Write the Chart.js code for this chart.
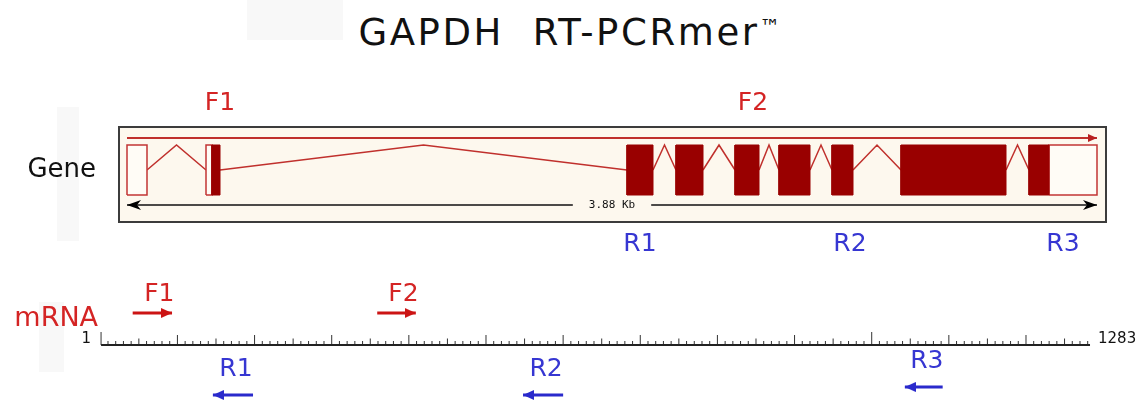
<!DOCTYPE html>
<html lang="en">
<head>
<meta charset="UTF-8">
<title>GAPDH RT-PCRmer</title>
<script src="https://cdn.jsdelivr.net/npm/chart.js"></script>
<style>
  body { margin: 0; background: #fff; font-family: "DejaVu Sans", Verdana, sans-serif; }
  #page { position: relative; width: 1139px; height: 402px; overflow: hidden; }
  .patch { position: absolute; background: #f8f8f8; }
  #title { position: absolute; left: 0; top: 11px; width: 1139px; text-align: center;
           font-size: 37px; letter-spacing: 2.6px; color: #111; white-space: pre; }
  #title span { font-size: 21px; letter-spacing: 0; position: relative; top: -11px; }
  #geneBox { position: absolute; left: 0; top: 0; width: 1139px; height: 258px; }
  #mrnaBox { position: absolute; left: 0; top: 258px; width: 1139px; height: 144px; }
</style>
</head>
<body>
<div id="page">
  <div class="patch" style="left:247px;top:0;width:96px;height:40px"></div>
  <div class="patch" style="left:57px;top:107px;width:22px;height:134px"></div>
  <div class="patch" style="left:39px;top:302px;width:25px;height:70px"></div>
  <div id="title">GAPDH  RT-PCRmer<span>™</span></div>
  <div id="geneBox"><canvas id="gene"></canvas></div>
  <div id="mrnaBox"><canvas id="mrna"></canvas></div>
</div>
<script>
// ---- gene (bp, 0 = transcription start) ----
const GENE_LEN = 3880;
const exonStart = [0, 316, 2000, 2196, 2432, 2608, 2820, 3096, 3608];
const exonEnd   = [80, 372, 2104, 2304, 2528, 2732, 2904, 3516, 3880];
const cdsStart = 340;
const cdsEnd = 3688;
const geneLabels = ['F1', 'F2', 'R1', 'R2', 'R3'];
const geneLabelPos = [372, 2504, 2052, 2892, 3744];
const geneSizeLabel = '3.88 Kb';

// ---- mRNA (nt) ----
const rulerEnds = [1, 1283];
const primerNames = ['F1', 'F2', 'R1', 'R2', 'R3'];
const primerStart = [42, 359, 146, 548, 1043];
const primerEnd   = [93, 409, 198, 600, 1092];

// layout (not data)
const RED = '#d42424', BLUE = '#3636d2', EXON = '#990000', LINE_RED = '#c0302c', CREAM = '#fdf8ee';
const geneRows = { bottom: 0, top: 1, intron: 0.5, strand: 1.14, scale: -0.2, fLabel: 1.83, rLabel: -0.98,
                   frameTop: 1.36, frameBottom: -0.54, frameLeft: -32, frameRight: 3916 };
const mrnaRows = { fArrow: 3.2, fLabel: 5.1, rArrow: -5.0, rLabel: -2.4, name: 2.6, ends: 0.55 };
const rowShift = { R3: 0.8 };

function arrowHead(color, len, half, notch) {
  // tip sits at the centre of the image so the data point is the tip
  const c = document.createElement('canvas');
  c.width = len * 2; c.height = half * 2 + 2;
  const g = c.getContext('2d');
  const cy = c.height / 2;
  g.fillStyle = color;
  g.beginPath();
  g.moveTo(len, cy);
  g.lineTo(0, cy - half);
  g.lineTo(notch, cy);
  g.lineTo(0, cy + half);
  g.closePath();
  g.fill();
  return c;
}

function rect(s, e, y0, y1) {
  return [{x: s, y: y0}, {x: e, y: y0}, {x: e, y: y1}, {x: s, y: y1}, {x: s, y: y0}];
}

function labelPlugin(items) {
  return {
    id: 'labels',
    afterDatasetsDraw(chart) {
      const ctx = chart.ctx, xs = chart.scales.x, ys = chart.scales.y;
      items.forEach(it => {
        const x = xs.getPixelForValue(it.x) + (it.dx || 0);
        const y = ys.getPixelForValue(it.y);
        ctx.save();
        ctx.font = it.font;
        ctx.textAlign = it.align || 'center';
        ctx.textBaseline = 'middle';
        if (it.bg) {
          const w = ctx.measureText(it.text).width + 2 * it.pad;
          ctx.fillStyle = it.bg;
          ctx.fillRect(x - w / 2, y - 6, w, 12);
        }
        ctx.fillStyle = it.color;
        ctx.fillText(it.text, x, y);
        ctx.restore();
      });
    }
  };
}

const framePlugin = {
  id: 'frame',
  beforeDatasetsDraw(chart) {
    const ctx = chart.ctx, xs = chart.scales.x, ys = chart.scales.y;
    const l = xs.getPixelForValue(geneRows.frameLeft), r = xs.getPixelForValue(geneRows.frameRight);
    const t = ys.getPixelForValue(geneRows.frameTop), b = ys.getPixelForValue(geneRows.frameBottom);
    ctx.save();
    ctx.fillStyle = CREAM;
    ctx.fillRect(l, t, r - l, b - t);
    ctx.strokeStyle = '#3c3c3c';
    ctx.lineWidth = 2;
    ctx.strokeRect(l, t, r - l, b - t);
    ctx.restore();
  }
};

// ---------- gene chart ----------
const cdsParts = [], utrParts = [];
exonStart.forEach((s, i) => {
  const e = exonEnd[i];
  const cs = Math.max(s, cdsStart), ce = Math.min(e, cdsEnd);
  if (ce > cs) cdsParts.push([cs, ce]);
  if (s < cs || ce <= cs) utrParts.push([s, ce > cs ? cs : e]);
  if (ce > cs && e > ce) utrParts.push([ce, e]);
});

const intronPts = [];
for (let i = 0; i < exonStart.length - 1; i++) {
  const a = exonEnd[i], b = exonStart[i + 1];
  intronPts.push({x: a, y: geneRows.intron}, {x: (a + b) / 2, y: geneRows.top}, {x: b, y: geneRows.intron}, {x: b, y: null});
}

const geneSets = [];
cdsParts.forEach(p => geneSets.push({
  data: rect(p[0], p[1], geneRows.bottom, geneRows.top),
  borderColor: EXON, backgroundColor: EXON, borderWidth: 1, fill: 'shape'
}));
utrParts.forEach(p => geneSets.push({
  data: rect(p[0], p[1], geneRows.bottom, geneRows.top),
  borderColor: '#c23434', backgroundColor: '#fffcf6', borderWidth: 1.5, fill: 'shape'
}));
geneSets.push({ data: intronPts, borderColor: LINE_RED, borderWidth: 1.5, spanGaps: false });
geneSets.push({
  data: [{x: 0, y: geneRows.strand}, {x: GENE_LEN, y: geneRows.strand}],
  borderColor: LINE_RED, borderWidth: 2,
  pointStyle: ['circle', arrowHead('#b82020', 9, 4, 0)], pointRadius: [0, 5], pointRotation: [0, 0]
});
const scaleHead = arrowHead('#000', 14, 5, 4);
geneSets.push({
  data: [{x: 0, y: geneRows.scale}, {x: GENE_LEN, y: geneRows.scale}],
  borderColor: '#111', borderWidth: 1.5,
  pointStyle: [scaleHead, scaleHead], pointRadius: [5, 5], pointRotation: [180, 0]
});

const geneText = geneLabels.map((t, i) => ({
  text: t, x: geneLabelPos[i], y: t[0] === 'F' ? geneRows.fLabel : geneRows.rLabel,
  color: t[0] === 'F' ? RED : BLUE, font: '25px "DejaVu Sans"'
}));
geneText.push({ text: 'Gene', x: geneRows.frameLeft, dx: -23, y: geneRows.intron, align: 'right', color: '#111', font: '26px "DejaVu Sans"' });
geneText.push({ text: geneSizeLabel, x: GENE_LEN / 2, y: geneRows.scale, color: '#111', font: '11px "DejaVu Sans Mono"', bg: CREAM, pad: 16 });

new Chart(document.getElementById('gene'), {
  type: 'line',
  data: { datasets: geneSets },
  options: {
    responsive: true, maintainAspectRatio: false, animation: false, events: [],
    layout: { padding: 0, autoPadding: false },
    elements: { point: { radius: 0, hoverRadius: 0 }, line: { tension: 0 } },
    scales: {
      x: { type: 'linear', min: -508, max: 4048, display: false },
      y: { type: 'linear', min: -1.26, max: 3.9, display: false }
    },
    plugins: { legend: { display: false }, tooltip: { enabled: false } }
  },
  plugins: [framePlugin, labelPlugin(geneText)]
});

// ---------- mRNA chart ----------
const tickMinor = [], tickMid = [], tickMajor = [], tickTall = [rulerEnds[0], 1000];
for (let t = 10; t < rulerEnds[1]; t += 10) {
  if (t === 1000) continue;
  if (t % 100 === 0) tickMajor.push(t);
  else if (t % 50 === 0) tickMid.push(t);
  else tickMinor.push(t);
}
const ticks = (list, len) => list.flatMap(t => [{x: t, y: 0}, {x: t, y: len}, {x: t, y: null}]);

const mrnaSets = [];
primerNames.forEach((n, i) => {
  const fwd = n[0] === 'F';
  const row = (fwd ? mrnaRows.fArrow : mrnaRows.rArrow) + (rowShift[n] || 0);
  const tail = fwd ? primerStart[i] : primerEnd[i];
  const tip = fwd ? primerEnd[i] : primerStart[i];
  const col = fwd ? '#cc1414' : '#2a2acc';
  mrnaSets.push({
    data: [{x: tail, y: row}, {x: tip, y: row}],
    borderColor: col, borderWidth: 3, borderCapStyle: 'butt',
    pointStyle: ['circle', arrowHead(col, 11, 5, 0)], pointRadius: [0, 5], pointRotation: [0, fwd ? 0 : 180]
  });
});
mrnaSets.push({ data: [{x: rulerEnds[0], y: 0}, {x: rulerEnds[1], y: 0}], borderColor: '#222', borderWidth: 2 });
mrnaSets.push({ data: ticks(tickMinor, 0.4), borderColor: '#333', borderWidth: 1, spanGaps: false });
mrnaSets.push({ data: ticks(tickMid, 0.65), borderColor: '#333', borderWidth: 1, spanGaps: false });
mrnaSets.push({ data: ticks(tickMajor, 1.0), borderColor: '#333', borderWidth: 1, spanGaps: false });
mrnaSets.push({ data: ticks(tickTall, 1.3), borderColor: '#333', borderWidth: 1, spanGaps: false });

const mrnaText = primerNames.map((n, i) => {
  const fwd = n[0] === 'F';
  return {
    text: n, x: (primerStart[i] + primerEnd[i]) / 2, dx: fwd ? 7 : 3,
    y: (fwd ? mrnaRows.fLabel : mrnaRows.rLabel) + (rowShift[n] || 0),
    color: fwd ? RED : BLUE, font: '25px "DejaVu Sans"'
  };
});
mrnaText.push({ text: 'mRNA', x: rulerEnds[0], dx: -3, y: mrnaRows.name, align: 'right', color: RED, font: '27px "DejaVu Sans"' });
mrnaText.push({ text: String(rulerEnds[0]), x: rulerEnds[0], dx: -10, y: mrnaRows.ends, align: 'right', color: '#111', font: '15px "DejaVu Sans"' });
mrnaText.push({ text: String(rulerEnds[1]), x: rulerEnds[1], dx: 8, y: mrnaRows.ends, align: 'left', color: '#111', font: '15px "DejaVu Sans"' });

new Chart(document.getElementById('mrna'), {
  type: 'line',
  data: { datasets: mrnaSets },
  options: {
    responsive: true, maintainAspectRatio: false, animation: false, events: [],
    layout: { padding: 0, autoPadding: false },
    elements: { point: { radius: 0, hoverRadius: 0 }, line: { tension: 0 } },
    scales: {
      x: { type: 'linear', min: -130, max: 1346.5, display: false },
      y: { type: 'linear', min: -5.7, max: 8.7, display: false }
    },
    plugins: { legend: { display: false }, tooltip: { enabled: false } }
  },
  plugins: [labelPlugin(mrnaText)]
});
</script>
</body>
</html>
